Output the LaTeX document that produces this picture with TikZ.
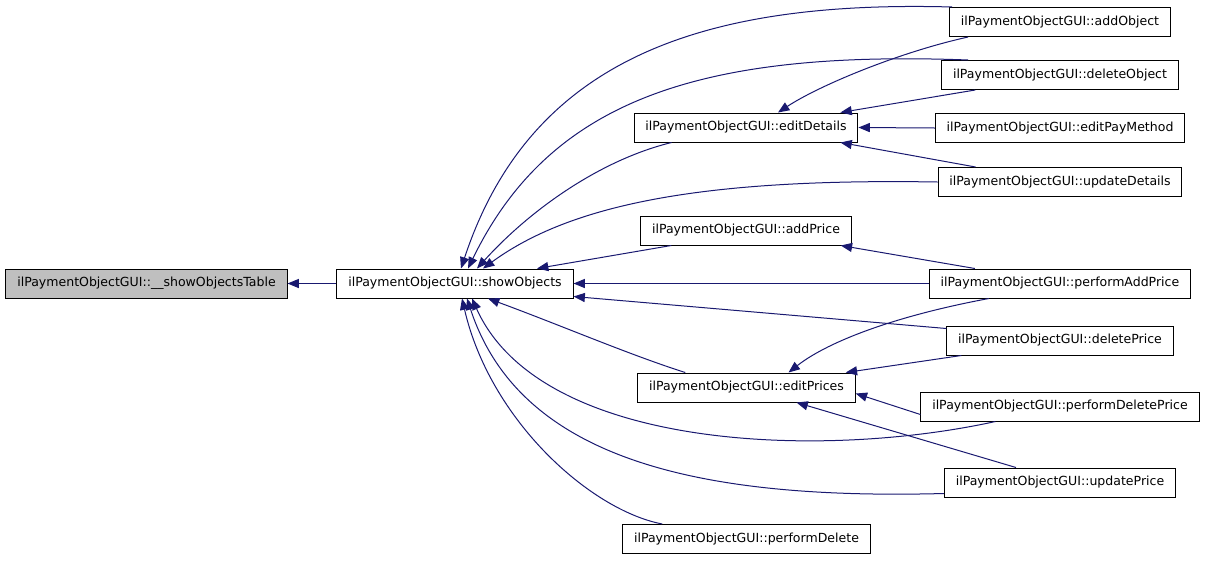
\documentclass[tikz,border=0pt]{standalone}
\usepackage{fontspec}
\setmainfont{DejaVu Sans}
\usetikzlibrary{arrows.meta,calc}
\definecolor{edgeblue}{RGB}{25,25,112}
\definecolor{rootgray}{RGB}{191,191,191}
\begin{document}
\begin{tikzpicture}[x=0.75pt,y=0.75pt]
\tikzstyle{every node}+=[font=\fontsize{9.4}{11}\selectfont]
\tikzstyle{fn}=[draw=black, line width=0.75pt, inner xsep=8.5pt, inner ysep=0pt, minimum height=21.75pt]
\tikzstyle{call}=[draw=edgeblue, line width=0.75pt, -{Triangle[length=8.5pt,width=6.8pt]}]
\useasboundingbox (0,0) rectangle (1205,-561);
\node[fn, fill=rootgray] (T) at (146.5,-283.5) {ilPaymentObjectGUI::\_\_showObjectsTable};
\node[fn] (S) at (455,-283.5) {ilPaymentObjectGUI::showObjects};
\node[fn] (addObj) at (1060,-22) {ilPaymentObjectGUI::addObject};
\node[fn] (delObj) at (1060,-75) {ilPaymentObjectGUI::deleteObject};
\node[fn] (editDet) at (746,-127.5) {ilPaymentObjectGUI::editDetails};
\node[fn] (editPay) at (1060,-128) {ilPaymentObjectGUI::editPayMethod};
\node[fn] (updDet) at (1060,-182) {ilPaymentObjectGUI::updateDetails};
\node[fn] (addPrice) at (746,-230.5) {ilPaymentObjectGUI::addPrice};
\node[fn] (perfAdd) at (1060,-283.5) {ilPaymentObjectGUI::performAddPrice};
\node[fn] (delPrice) at (1060,-340.5) {ilPaymentObjectGUI::deletePrice};
\node[fn] (editPrices) at (746.5,-387.5) {ilPaymentObjectGUI::editPrices};
\node[fn] (perfDelPrice) at (1060,-406.5) {ilPaymentObjectGUI::performDeletePrice};
\node[fn] (updPrice) at (1060,-482.5) {ilPaymentObjectGUI::updatePrice};
\node[fn] (perfDel) at (746.5,-539) {ilPaymentObjectGUI::performDelete};
% callers of showObjects
\draw[call] (S.west) -- (T.east);
\draw[call] ($(addObj.north west)+(3,0)$) .. controls (700,0) and (530,-60) .. ($(S.north)+(6,0)$);
\draw[call] ($(delObj.north west)+(27,0)$) .. controls (700,-50) and (550,-100) .. ($(S.north)+(13,0)$);
\draw[call] ($(editDet.south west)+(38,0)$) .. controls (600,-160) and (530,-210) .. ($(S.north)+(22,0)$);
\draw[call] (updDet.west) .. controls (700,-178) and (570,-205) .. ($(S.north)+(28,0)$);
\draw[call] ($(addPrice.south west)+(31,0)$) -- ($(S.north)+(82,0)$);
\draw[call] (perfAdd.west) -- (S.east);
\draw[call] ($(delPrice.north west)+(0,-3)$) -- ($(S.south east)+(0,2)$);
\draw[call] ($(editPrices.north west)+(48,0)$) .. controls (630,-355) and (560,-325) .. ($(S.south)+(33,0)$);
\draw[call] ($(perfDelPrice.south west)+(75,0)$) .. controls (820,-460) and (540,-450) .. ($(S.south)+(17,0)$);
\draw[call] ($(updPrice.south west)+(0,4)$) .. controls (700,-500) and (520,-460) .. ($(S.south)+(12,0)$);
\draw[call] ($(perfDel.north west)+(40,0)$) .. controls (590,-510) and (490,-420) .. ($(S.south)+(7,0)$);
% callers of editDetails
\draw[call] ($(addObj.south west)+(19,0)$) .. controls (900,-52) and (820,-85) .. ($(editDet.north)+(32,0)$);
\draw[call] ($(delObj.south west)+(34,0)$) -- ($(editDet.north east)+(-18,0)$);
\draw[call] (editPay.west) -- (editDet.east);
\draw[call] ($(updDet.north west)+(38,0)$) -- ($(editDet.south east)+(-18,0)$);
% callers of addPrice and editPrices
\draw[call] ($(perfAdd.north west)+(46,0)$) -- ($(addPrice.south east)+(-11,0)$);
\draw[call] ($(perfAdd.south west)+(60,0)$) .. controls (900,-315) and (830,-340) .. ($(editPrices.north)+(42,0)$);
\draw[call] ($(delPrice.south west)+(15,0)$) -- ($(editPrices.north east)+(-10,0)$);
\draw[call] ($(perfDelPrice.west)+(0,-8)$) -- ($(editPrices.east)+(0,-6)$);
\draw[call] ($(updPrice.north west)+(72,0)$) -- ($(editPrices.south)+(50,0)$);
\end{tikzpicture}
\end{document}
